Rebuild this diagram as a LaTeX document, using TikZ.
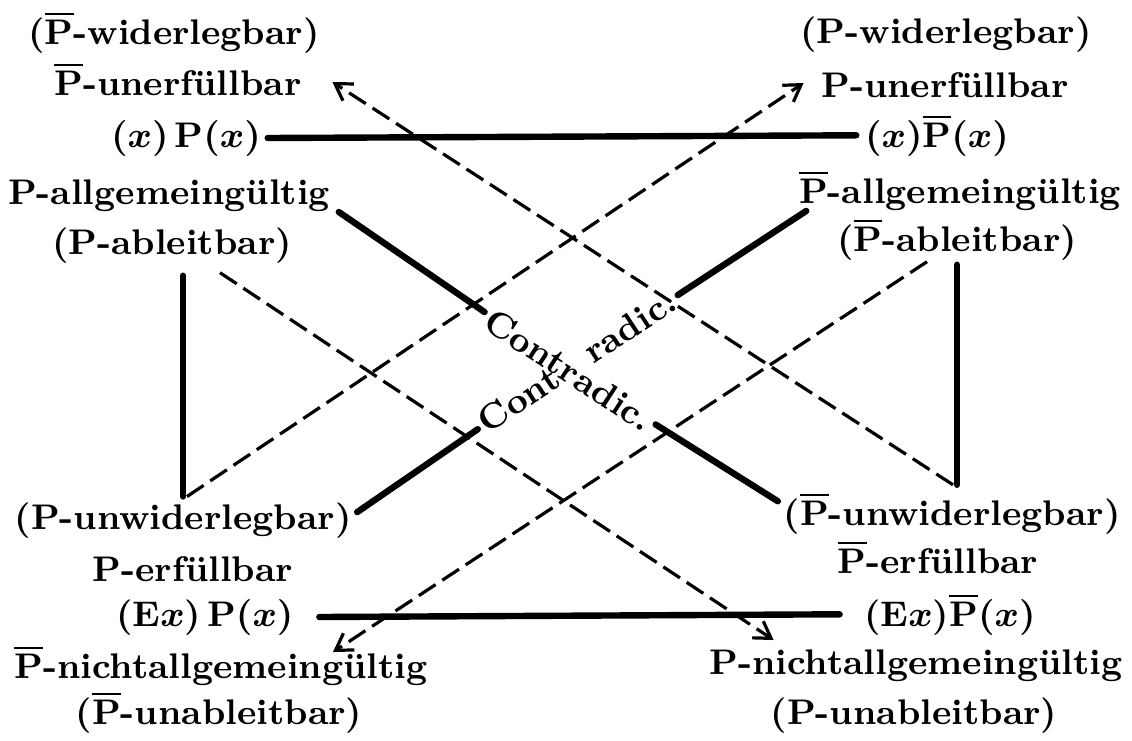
\documentclass[tikz,border=0pt]{standalone}
\usetikzlibrary{calc,arrows.meta}
\newcommand\Pb{\ensuremath{\overline{\mbox{P}}}}
\begin{document}
\begin{tikzpicture}[x=0.25pt,y=-0.25pt,
  txt/.style={inner sep=0pt,anchor=base,font=\fontsize{8.9}{10}\selectfont\bfseries\boldmath},
  lab/.style={inner sep=1.2pt,font=\fontsize{8.9}{10}\selectfont\bfseries},
  heavy/.style={line width=1.6pt,line cap=round},
  darr/.style={line width=0.8pt,dash pattern=on 5pt off 2pt,-{Straight Barb[length=4pt,width=5pt,line width=0.8pt]}}]
\useasboundingbox (0,0) rectangle (1132,740);
% top left
\node[txt] (wTL) at (174,44) {(\Pb-widerlegbar)};
\node[txt] (uTL) at (178,95) {\Pb-unerfüllbar};
\node[txt] (xTL) at (186,147) {$(x)$\,P$(x)$};
\node[txt] (aTL) at (169,204) {P-allgemeingültig};
\node[txt] (bTL) at (172,254) {(P-ableitbar)};
% top right
\node[txt] (wTR) at (946,43) {(P-widerlegbar)};
\node[txt] (uTR) at (945,97) {P-unerfüllbar};
\node[txt] (xTR) at (937,147) {$(x)$\Pb$(x)$};
\node[txt] (aTR) at (960,203) {\Pb-allgemeingültig};
\node[txt] (bTR) at (957,251) {(\Pb-ableitbar)};
% bottom left
\node[txt] (uwBL) at (183,529) {(P-unwiderlegbar)};
\node[txt] (eBL) at (193,581) {P-erfüllbar};
\node[txt] (xBL) at (205,626) {(E$x$)\,P$(x)$};
\node[txt] (nBL) at (221,678) {\Pb-nichtallgemeingültig};
\node[txt] (bBL) at (219,724) {(\Pb-unableitbar)};
% bottom right
\node[txt] (uwBR) at (952,525) {(\Pb-unwiderlegbar)};
\node[txt] (eBR) at (938,573) {\Pb-erfüllbar};
\node[txt] (xBR) at (950,626) {(E$x$)\Pb$(x)$};
\node[txt] (nBR) at (916,674) {P-nichtallgemeingültig};
\node[txt] (bBR) at (914,724) {(P-unableitbar)};
% labels
\node[lab,rotate=-33.1] (c1) at (569,370) {Contradic.};
\node[lab,rotate=33.4] (c2) at (577,361) {Cont\hspace{9pt}radic.};
% solid lines
\draw[heavy] ($(xTL.east)+(6,0)$) -- ($(xTR.west)+(-8,0)$);
\draw[heavy] ($(xBL.east)+(25,0)$) -- ($(xBR.west)+(-24,0)$);
\draw[heavy] ($(bTL.south -| uwBL.north)+(0,12)$) -- ($(uwBL.north)+(0,-5)$);
\draw[heavy] ($(bTR.south)+(0,4)$) -- ($(bTR.south |- uwBR.north)+(0,-7)$);
\draw[heavy] ($(aTL.south east)+(8,0)$) -- (c1);
\draw[heavy] (c1) -- ($(uwBR.west)+(-5,-12)$);
\draw[heavy] ($(uwBL.east)+(5,-8)$) -- (c2);
\draw[heavy] (c2) -- ($(aTR.south west)+(8,0)$);
% dashed arrows
\draw[darr] ($(uwBR.north)+(1,-7)$) -- ($(uTL.base east)+(30,-13)$);
\draw[darr] ($(uwBL.north)+(4,-5)$) -- ($(uTR.base west)+(-17,-14)$);
\draw[darr] ($(bTL.south)+(48,9)$) -- ($(nBR.base west)+(65,-34)$);
\draw[darr] ($(bTR.south)+(-30,1)$) -- ($(nBL.base)+(112,-26)$);
\end{tikzpicture}
\end{document}
